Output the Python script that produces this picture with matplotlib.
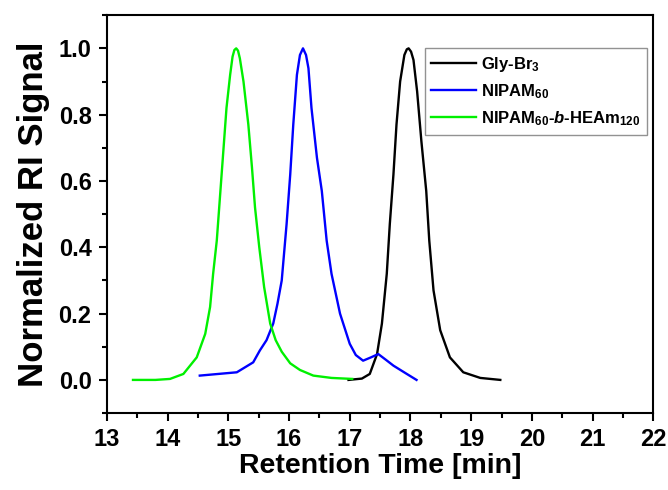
import numpy as np
import matplotlib
matplotlib.use("Agg")
import matplotlib.pyplot as plt
from matplotlib.ticker import MultipleLocator, FormatStrFormatter

plt.rcParams['font.family'] = ['Liberation Sans', 'DejaVu Sans']
plt.rcParams['font.weight'] = 'bold'
plt.rcParams['mathtext.fontset'] = 'custom'
plt.rcParams['mathtext.rm'] = 'Liberation Sans:bold'
plt.rcParams['mathtext.bf'] = 'Liberation Sans:bold'
plt.rcParams['mathtext.it'] = 'Liberation Sans:bold:italic'

# GPC traces (retention time in min, normalized RI signal)
t_gly = [16.98, 17.20, 17.33, 17.45, 17.53, 17.61, 17.66, 17.72, 17.77, 17.83,
         17.90, 17.94, 17.97, 18.01, 18.05, 18.11, 18.18, 18.26, 18.31, 18.38,
         18.49, 18.65, 18.87, 19.15, 19.48]
s_gly = [0.0, 0.004, 0.018, 0.078, 0.17, 0.32, 0.47, 0.62, 0.77, 0.90,
         0.98, 0.997, 1.0, 0.99, 0.965, 0.87, 0.72, 0.57, 0.42, 0.27,
         0.15, 0.068, 0.023, 0.006, 0.0]

t_nipam = [14.53, 15.14, 15.41, 15.52, 15.63, 15.74, 15.81, 15.88, 15.96, 16.02,
           16.07, 16.13, 16.18, 16.23, 16.28, 16.32, 16.37, 16.46, 16.54, 16.62,
           16.70, 16.84, 17.00, 17.10, 17.22, 17.35, 17.47, 17.60, 17.72, 17.94,
           18.10]
s_nipam = [0.013, 0.023, 0.053, 0.089, 0.12, 0.17, 0.23, 0.30, 0.47, 0.62,
           0.77, 0.92, 0.98, 1.0, 0.98, 0.94, 0.82, 0.67, 0.57, 0.42,
           0.32, 0.20, 0.109, 0.075, 0.058, 0.068, 0.078, 0.06, 0.043, 0.018,
           0.0]

t_block = [13.43, 13.80, 14.04, 14.26, 14.48, 14.62, 14.70, 14.75, 14.81, 14.85,
           14.89, 14.93, 14.97, 15.03, 15.07, 15.10, 15.13, 15.16, 15.19, 15.25,
           15.33, 15.39, 15.44, 15.51, 15.59, 15.69, 15.78, 15.88, 16.02, 16.18,
           16.40, 16.70, 17.04]
s_block = [0.0, 0.0, 0.003, 0.018, 0.068, 0.139, 0.22, 0.32, 0.42, 0.52,
           0.62, 0.72, 0.82, 0.92, 0.975, 0.995, 1.0, 0.993, 0.97, 0.90,
           0.77, 0.64, 0.52, 0.40, 0.28, 0.17, 0.12, 0.085, 0.05, 0.03,
           0.013, 0.006, 0.003]

labels = [r'Gly-Br$_3$', r'NIPAM$_{60}$', r'NIPAM$_{60}$-$\mathit{b}$-HEAm$_{120}$']

fig = plt.figure(figsize=(6.68, 4.9), dpi=100)
ax = fig.add_axes([0.160, 0.157, 0.818, 0.812])

ax.plot(t_gly, s_gly, color='black', lw=1.7, label=labels[0])
ax.plot(t_nipam, s_nipam, color='#0000ff', lw=1.7, label=labels[1])
ax.plot(t_block, s_block, color='#00f000', lw=1.7, label=labels[2])

ax.set_xlim(13, 22)
ax.set_ylim(-0.1, 1.1)
ax.xaxis.set_major_locator(MultipleLocator(1))
ax.xaxis.set_minor_locator(MultipleLocator(0.5))
ax.yaxis.set_major_locator(MultipleLocator(0.2))
ax.yaxis.set_minor_locator(MultipleLocator(0.1))
ax.yaxis.set_major_formatter(FormatStrFormatter('%.1f'))

for sp in ax.spines.values():
    sp.set_linewidth(1.5)
ax.tick_params(which='both', direction='out', top=False, right=False, width=1.5)
ax.tick_params(which='major', length=6, labelsize=17, pad=5)
ax.tick_params(which='minor', length=3.5)

ax.set_xlabel('Retention Time [min]', fontsize=20.5, fontweight='bold', labelpad=1)
ax.set_ylabel('Normalized RI Signal', fontsize=25, fontweight='bold', labelpad=6)

leg = ax.legend(loc='upper right', bbox_to_anchor=(0.989, 0.917), borderaxespad=0,
                fontsize=12, frameon=True, fancybox=False, shadow=False,
                handlelength=2.7, handletextpad=0.3, labelspacing=0.5,
                borderpad=0.4)
leg.get_frame().set_edgecolor('#777777')
leg.get_frame().set_linewidth(1.0)

fig.savefig('out.png', dpi=100)
